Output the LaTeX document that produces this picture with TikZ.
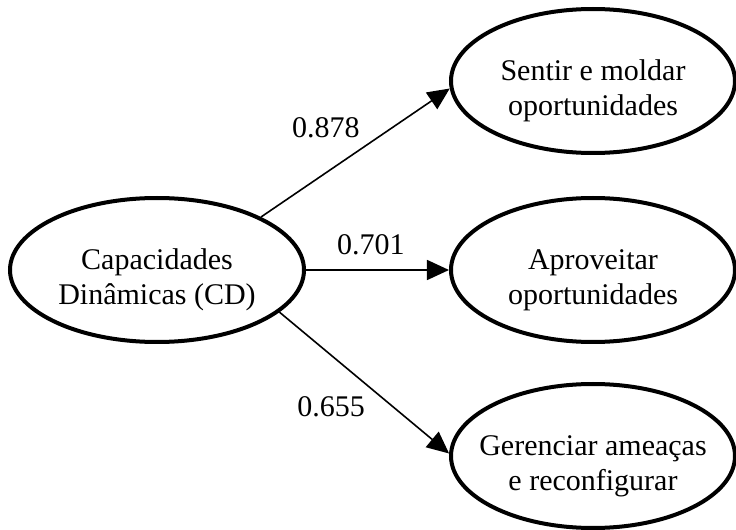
\documentclass[tikz,border=0pt]{standalone}
\usepackage{fontspec}
\setmainfont{Liberation Serif}
\usetikzlibrary{shapes,arrows.meta}

\begin{document}
\begin{tikzpicture}[x=0.5pt,y=-0.5pt,
		construct/.style={ellipse,draw,line width=2pt,inner xsep=-10pt,inner ysep=0pt,minimum height=72pt,text height=38pt,align=center,font=\fontsize{15}{17.5}\selectfont},
		loading/.style={-{Triangle[length=11pt,width=10pt]},line width=0.8pt},
		coef/.style={inner sep=0pt,font=\fontsize{15}{18}\selectfont}]
			\useasboundingbox (0,0) rectangle (736,530);
			% latent construct and its three dimensions
			\node[construct,minimum width=147pt] (cd) at (157,270) {Capacidades\\Dinâmicas (CD)};
			\node[construct,minimum width=142pt] (smo) at (593,81) {Sentir e moldar\\oportunidades};
			\node[construct,minimum width=142pt] (apo) at (593,270) {Aproveitar\\oportunidades};
			\node[construct,minimum width=142pt] (gar) at (593,456) {Gerenciar ameaças\\e reconfigurar};
			
			\draw[loading] (cd.27) -- (smo.183);
			\draw[loading] (cd.east) -- (apo.west);
			\draw[loading] (cd.-19) -- (gar.179);
			% loadings
			\node[coef] (l1) at (326,128) {0.878};
			\node[coef] (l2) at (371,245) {0.701};
			\node[coef] (l3) at (331,407) {0.655};
		\end{tikzpicture}
\end{document}
